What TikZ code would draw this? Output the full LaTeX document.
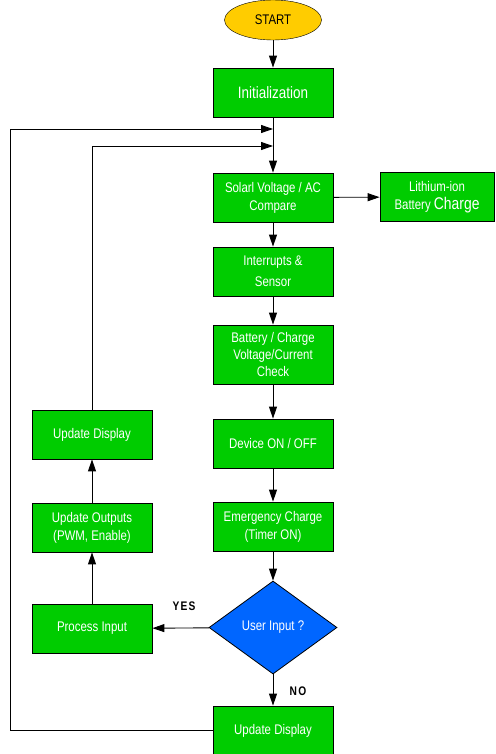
\documentclass[tikz,border=0pt]{standalone}
\usepackage{fontspec}
\setmainfont[FakeStretch=0.82]{Liberation Sans}
\usetikzlibrary{shapes.geometric,arrows.meta}
\definecolor{boxgreen}{HTML}{00CC00}
\definecolor{askblue}{HTML}{0066FF}
\definecolor{startgold}{HTML}{FFCC00}

\begin{document}
\begin{tikzpicture}[x=1bp,y=-1bp]

      \useasboundingbox (0,0) rectangle (496,754);
      \clip (0,0) rectangle (496,754);

      \node (1) at (273,20) [ellipse,draw,fill=startgold,inner sep=0pt,
        minimum width=97bp,minimum height=40bp,
        font=\fontsize{14}{16}\selectfont] {START};

      \begin{scope}[every node/.style={rectangle,draw,line width=0.8bp,
          fill=boxgreen,text=white,align=center,
          minimum width=120bp,minimum height=49bp,
          font=\fontsize{14}{18}\selectfont}]
        \node (2)  at (273,92.5)  {\fontsize{16.5}{20}\selectfont Initialization};
        \node (3)  at (273,197.5) {Solarl Voltage / AC\\Compare};
        \node (4)  at (437,197)   [minimum width=114bp] {Lithium-ion\\Battery {\fontsize{17}{18}\selectfont Charge}};
        \node (5)  at (273,271.5) [font=\fontsize{14}{21}\selectfont] {Interrupts \&\\Sensor};
        \node (6)  at (273,354.5) [minimum height=59bp,font=\fontsize{14}{17.5}\selectfont] {Battery / Charge\\Voltage/Current\\Check};
        \node (7)  at (273,443.5) {Device ON / OFF};
        \node (8)  at (273,526.5) {Emergency Charge\\(Timer ON)};
        \node (10) at (273,730.5) {Update Display};
        \node (11) at (92,434.5)  {Update Display};
        \node (12) at (92,527.5)  {Update Outputs\\(PWM, Enable)};
        \node (13) at (92,628.5)  {Process Input};
      \end{scope}

      \node (9) at (273,627.5) [diamond,draw,line width=0.8bp,fill=askblue,
        text=white,inner sep=0pt,aspect=1.38,
        minimum width=128bp,minimum height=93bp,
        font=\fontsize{14}{18}\selectfont] {User Input ?};

      \coordinate (j1) at (273,129);
      \coordinate (j2) at (273,146);
      \coordinate (m1) at (10,129);

      \begin{scope}[line width=0.9bp,
          every edge/.style={draw,-{Triangle[length=12bp,width=8bp]}}]
        \path (1)  edge (2);
        \path (2)  edge (3);
        \path (3)  edge (4);
        \path (3)  edge (5);
        \path (5)  edge (6);
        \path (6)  edge (7);
        \path (7)  edge (8);
        \path (8)  edge (9);
        \path (9)  edge (10);
        \path (9)  edge (13);
        \path (13) edge (12);
        \path (12) edge (11);
        \draw[-{Triangle[length=12bp,width=8bp]}] (10.west) -| (m1) -- (j1);
        \draw[-{Triangle[length=12bp,width=8bp]}] (11.north) |- (j2);
      \end{scope}

      \begin{scope}[every node/.style={font=\bfseries\fontsize{12.5}{14}\selectfont\addfontfeature{LetterSpace=10}}]
        \node (yes) at (184,606) {YES};
        \node (no)  at (298,691) {NO};
      \end{scope}

    \end{tikzpicture}
\end{document}
